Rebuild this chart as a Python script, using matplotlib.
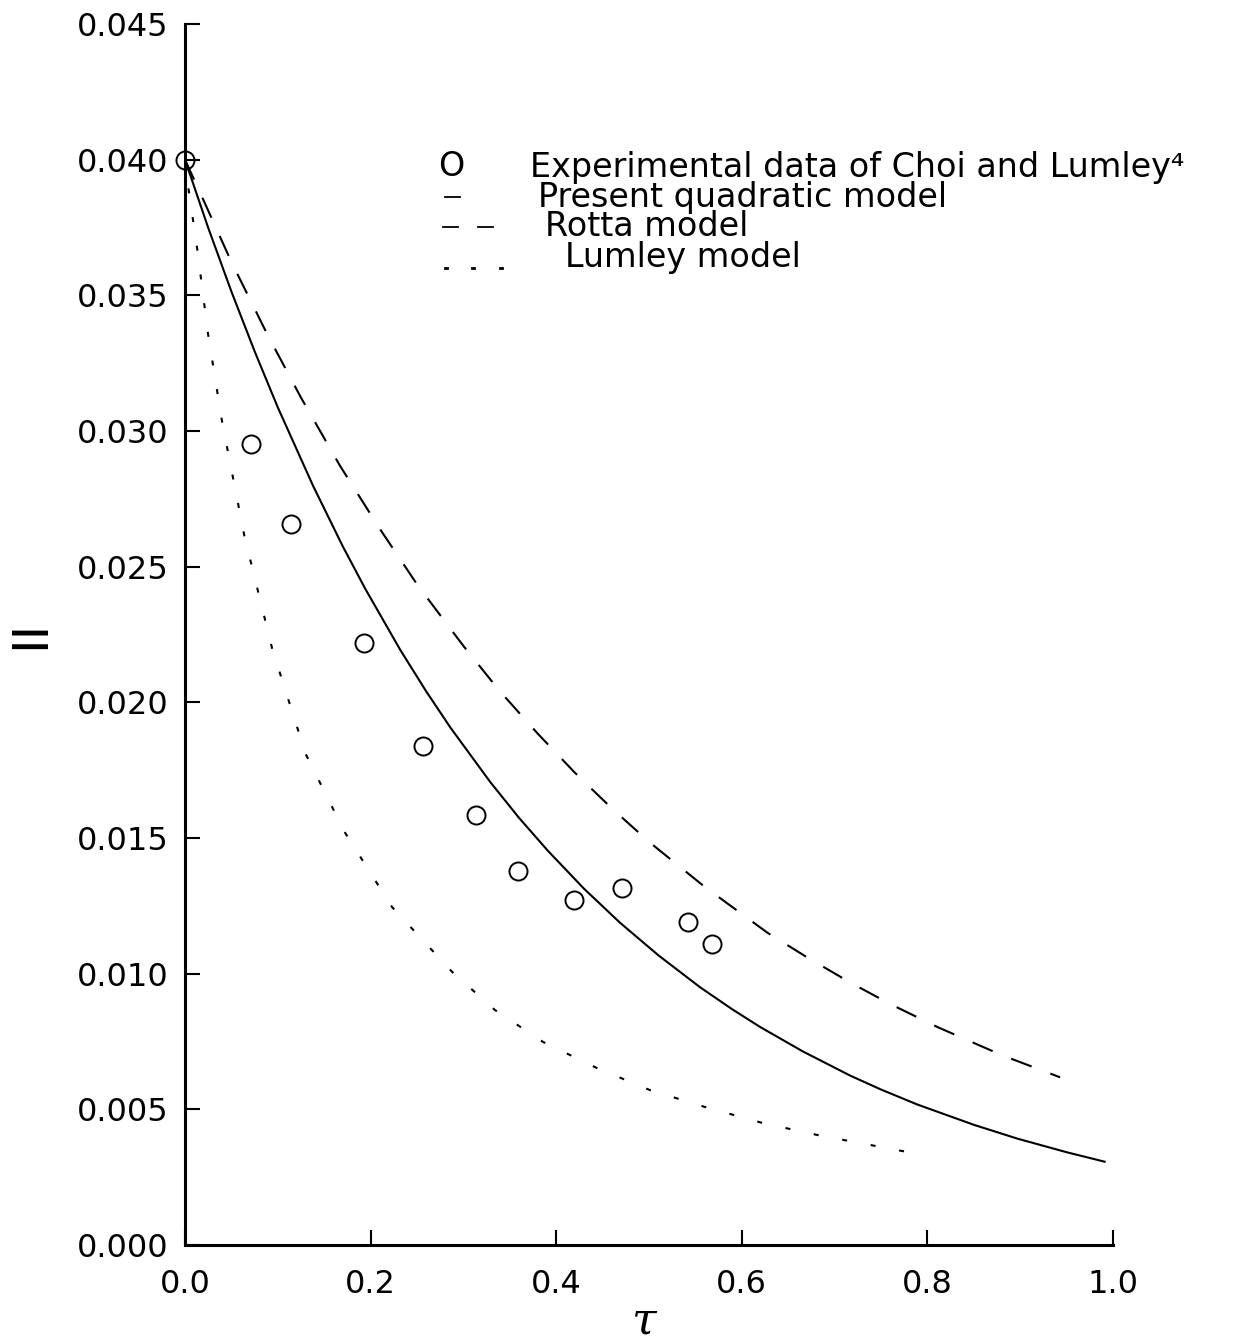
import matplotlib
matplotlib.use("Agg")
import matplotlib.pyplot as plt
from matplotlib.lines import Line2D

# experimental data of Choi and Lumley (circles)
exp_tau = [0.0, 0.071, 0.114, 0.193, 0.256, 0.314, 0.359, 0.419, 0.471, 0.542, 0.568]
exp_II = [0.0400, 0.02952, 0.02657, 0.02218, 0.01838, 0.01583, 0.01380, 0.01273, 0.01317, 0.01192, 0.01111]

# present quadratic model (solid)
quad_tau = [0.0, 0.025, 0.05, 0.075, 0.10, 0.138, 0.17, 0.194, 0.232, 0.26, 0.286, 0.329, 0.36, 0.391,
            0.43, 0.469, 0.51, 0.555, 0.59, 0.62, 0.666, 0.717, 0.75, 0.789, 0.85, 0.897, 0.95, 0.991]
quad_II = [0.04000, 0.03749, 0.03514, 0.03294, 0.03087, 0.02798, 0.02575, 0.02420, 0.02193, 0.02040,
           0.01907, 0.01706, 0.01574, 0.01453, 0.01313, 0.01187, 0.01068, 0.00950, 0.00868, 0.00803,
           0.00713, 0.00624, 0.00573, 0.00518, 0.00443, 0.00392, 0.00342, 0.00307]

# Rotta model (dashed)
rotta_tau = [0.0, 0.022, 0.05, 0.089, 0.125, 0.167, 0.21, 0.251, 0.30, 0.339, 0.38, 0.42, 0.46, 0.501,
             0.56, 0.628, 0.67, 0.717, 0.76, 0.811, 0.88, 0.943]
rotta_II = [0.04000, 0.03835, 0.03623, 0.03354, 0.03123, 0.02872, 0.02639, 0.02430, 0.02208, 0.02042,
            0.01885, 0.01741, 0.01609, 0.01483, 0.01320, 0.01150, 0.01061, 0.00967, 0.00888, 0.00803,
            0.00700, 0.00618]

# Lumley model (dotted)
lum_tau = [0.0, 0.004, 0.013, 0.025, 0.040, 0.064, 0.094, 0.130, 0.172, 0.223, 0.288,
           0.334, 0.386, 0.444, 0.501, 0.560, 0.622, 0.682, 0.744, 0.778]
lum_II = [0.0400, 0.03887, 0.03675, 0.03354, 0.03033, 0.02613, 0.02197, 0.01810, 0.01522, 0.01246, 0.01006,
          0.00866, 0.00748, 0.00652, 0.00571, 0.00509, 0.00450, 0.00405, 0.00365, 0.00343]

x_ticks = [0.0, 0.2, 0.4, 0.6, 0.8, 1.0]
y_ticks = [0.000, 0.005, 0.010, 0.015, 0.020, 0.025, 0.030, 0.035, 0.040, 0.045]

legend_labels = ["Experimental data of Choi and Lumley\u2074", "Present quadratic model",
                 "Rotta model", "Lumley model"]

plt.rcParams["font.family"] = ["DejaVu Sans"]
plt.rcParams["mathtext.fontset"] = "dejavuserif"

W, H = 1256, 1342
fig = plt.figure(figsize=(W / 100, H / 100), dpi=100)
ax = fig.add_axes([185 / W, 97 / H, 928 / W, 1221 / H])

ax.plot(quad_tau, quad_II, color="black", lw=1.5)
ax.plot(rotta_tau, rotta_II, color="black", lw=1.5, dashes=(10.5, 9.6))
ax.plot(lum_tau, lum_II, color="black", lw=1.5, dashes=(2.4, 11.5))
ax.plot(exp_tau, exp_II, "o", ms=13, mfc="none", mec="black", mew=1.4, clip_on=False)

ax.set_xlim(0, 1.0)
ax.set_ylim(0, 0.045)
ax.set_xticks(x_ticks)
ax.set_yticks(y_ticks)
ax.set_xticklabels([f"{v:.1f}" for v in x_ticks])
ax.set_yticklabels([f"{v:.3f}" for v in y_ticks])
ax.tick_params(direction="in", length=11, width=1.5, labelsize=23, pad=12)
ax.tick_params(axis="x", pad=17)
ax.spines["top"].set_visible(False)
ax.spines["right"].set_visible(False)
ax.spines["left"].set_linewidth(2.2)
ax.spines["bottom"].set_linewidth(2.2)

ax.set_xlabel(r"$\tau$", fontsize=32, va="center")
ax.xaxis.set_label_coords(0.495, -0.063)
ax.set_ylabel("II", fontsize=36, rotation=90, va="center")
ax.yaxis.set_label_coords(-0.167, 0.5)

# legend drawn by hand: symbols and text rows
row_y = [167, 197, 227, 258]
lab_x = [530, 538, 545, 565]
fig.text(451 / W, 1 - row_y[0] / H, "O", fontsize=24, ha="center", va="center")
fig.add_artist(Line2D([445 / W, 460 / W], [1 - row_y[1] / H] * 2, color="black", lw=1.3))
for x0 in (443, 478):
    fig.add_artist(Line2D([x0 / W, (x0 + 15) / W], [1 - row_y[2] / H] * 2, color="black", lw=1.3))
for x0 in (445, 472, 500):
    fig.add_artist(Line2D([x0 / W, (x0 + 2) / W], [1 - (row_y[3] + 10) / H] * 2, color="black", lw=2))
for lab, lx, ry in zip(legend_labels, lab_x, row_y):
    fig.text(lx / W, 1 - ry / H, lab, fontsize=24, ha="left", va="center")

fig.savefig("out.png", dpi=100)
